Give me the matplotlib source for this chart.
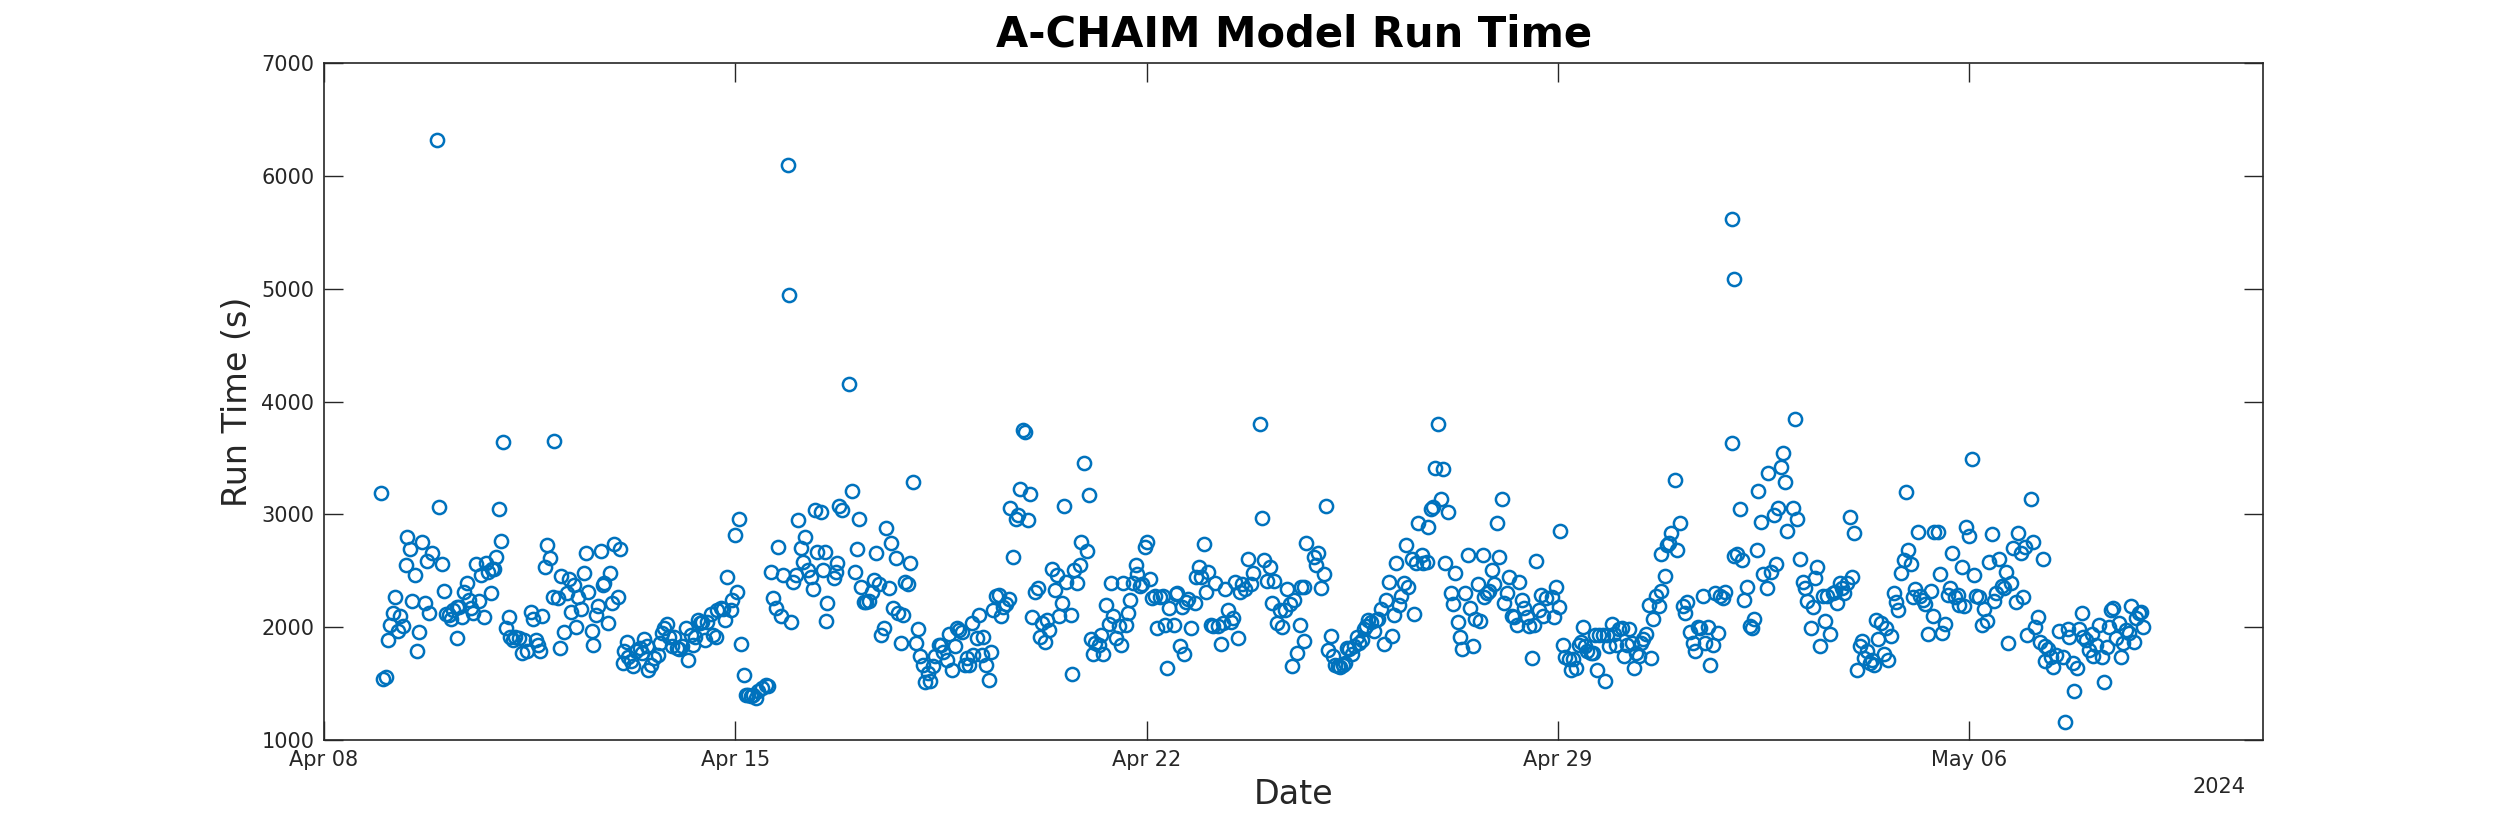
import numpy as np
import matplotlib
matplotlib.use('Agg')
import matplotlib.pyplot as plt
import matplotlib.dates as mdates

# run start, in days after 2024-04-08 00:00, and run time in seconds
days_apr09 = [0.97, 1.01, 1.05, 1.09, 1.12, 1.17, 1.21, 1.26, 1.30, 1.34, 1.39, 1.42, 1.46, 1.50,
              1.55, 1.58, 1.62, 1.66, 1.72, 1.75, 1.79, 1.84, 1.93, 1.96, 2.00, 2.05, 2.08, 2.12,
              2.16, 2.20, 2.26, 2.27, 2.30, 2.35, 2.38, 2.43, 2.46, 2.51, 2.54, 2.59, 2.64, 2.68,
              2.73, 2.75, 2.79, 2.84, 2.86, 2.89, 2.93, 2.97, 3.01, 3.05, 3.09, 3.14, 3.17, 3.21,
              3.25, 3.31, 3.37, 3.41, 3.45, 3.52, 3.55, 3.61, 3.65, 3.67, 3.71, 3.76, 3.80, 3.84,
              3.89, 3.92, 3.99, 4.01, 4.04, 4.09, 4.13, 4.17, 4.21, 4.25, 4.29, 4.33, 4.38, 4.42,
              4.46, 4.49]
secs_apr09 = [3186, 1543, 1563, 1888, 2020, 2124, 2265, 1962, 2103, 2012, 2552, 2797, 2693, 2236,
              2466, 1793, 1956, 2752, 2212, 2587, 2130, 2655, 6318, 3065, 2558, 2324, 2115, 2109,
              2071, 2153, 1903, 2177, 2183, 2089, 2316, 2395, 2242, 2168, 2124, 2563, 2233, 2466,
              2089, 2572, 2493, 2300, 2513, 2513, 2625, 3044, 2761, 3643, 1991, 2089, 1917, 1888,
              1909, 1903, 1770, 1888, 1785, 2139, 2071, 1888, 1844, 1785, 2100, 2531, 2729, 2611,
              2265, 3649, 2257, 1814, 2454, 1956, 2307, 2425, 2139, 2375, 2006, 2265, 2159, 2484,
              2661, 2316]

days_apr12 = [4.56, 4.58, 4.63, 4.66, 4.71, 4.74, 4.77, 4.83, 4.87, 4.90, 4.94, 5.00, 5.04, 5.08,
              5.11, 5.15, 5.18, 5.22, 5.25, 5.31, 5.37, 5.41, 5.45, 5.49, 5.52, 5.56, 5.62, 5.68,
              5.72, 5.76, 5.79, 5.83, 5.87, 5.92, 5.96, 6.00, 6.04, 6.10, 6.16, 6.20, 6.24, 6.28,
              6.32, 6.36, 6.40, 6.44, 6.49, 6.52, 6.58, 6.62, 6.67, 6.69, 6.75, 6.79, 6.82, 6.86,
              6.92, 6.95, 6.99, 7.03, 7.07, 7.10, 7.15, 7.18, 7.22, 7.26, 7.30, 7.35, 7.39, 7.45,
              7.52, 7.56, 7.60, 7.64, 7.69, 7.73, 7.77, 7.81, 7.89, 7.91, 7.94, 7.98, 8.04, 8.07,
              8.11, 8.15, 8.19, 8.24, 8.28, 8.32, 8.36, 8.39, 8.45, 8.49, 8.52, 8.55, 8.56]
secs_apr12 = [1970, 1838, 2109, 2189, 2676, 2375, 2395, 2035, 2484, 2218, 2738, 2271, 2690, 1687,
              1785, 1873, 1740, 1696, 1652, 1793, 1814, 1770, 1894, 1829, 1617, 1667, 1726, 1755,
              1858, 1947, 1991, 2027, 1917, 1829, 1917, 1814, 1805, 1829, 1991, 1711, 1932, 1844,
              1917, 2065, 2035, 2050, 1888, 2050, 2118, 1932, 1917, 2153, 2168, 2159, 2065, 2443,
              2153, 2242, 2817, 2316, 2962, 1850, 1578, 1401, 1401, 1386, 1401, 1372, 1431, 1460,
              1490, 1481, 2493, 2257, 2168, 2714, 2100, 2463, 6097, 4947, 2050, 2404, 2463, 2950,
              2699, 2581, 2802, 2507, 2448, 2336, 3038, 2670, 3018, 2507, 2670, 2059, 2212]

days_apr16 = [8.68, 8.72, 8.73, 8.77, 8.82, 8.94, 8.99, 9.03, 9.07, 9.10, 9.14, 9.19, 9.23, 9.27,
              9.32, 9.36, 9.40, 9.44, 9.48, 9.53, 9.56, 9.61, 9.65, 9.69, 9.74, 9.77, 9.82, 9.85,
              9.89, 9.94, 9.98, 10.02, 10.07, 10.11, 10.15, 10.19, 10.22, 10.27, 10.32, 10.36,
              10.40, 10.46, 10.50, 10.54, 10.60, 10.64, 10.69, 10.73, 10.77, 10.81, 10.85, 10.90,
              10.94, 10.98, 11.02, 11.05, 11.11, 11.15, 11.19, 11.22, 11.26, 11.31, 11.35, 11.39,
              11.43, 11.48, 11.52, 11.56, 11.60, 11.65, 11.67, 11.72, 11.77, 11.81, 11.85, 11.89,
              11.93, 11.98, 12.02, 12.05, 12.10, 12.15, 12.18, 12.22, 12.27, 12.30, 12.34, 12.38,
              12.44, 12.47, 12.51, 12.55, 12.60, 12.62]
secs_apr16 = [2434, 2493, 2566, 3074, 3038, 4159, 3210, 2493, 2690, 2956, 2360, 2227, 2227, 2236,
              2316, 2419, 2655, 2384, 1932, 1991, 2876, 2345, 2743, 2168, 2617, 2124, 1858, 2109,
              2404, 2384, 2572, 3289, 1858, 1982, 1746, 1667, 1510, 1593, 1519, 1652,
              1746, 1844, 1844, 1776, 1711, 1941, 1617, 1829, 1991, 1976, 1953, 1667,
              1726, 1667, 2035, 1755, 1903, 2109, 1755, 1917, 1667, 1528, 1776, 2153,
              2277, 2286, 2100, 2183, 2207, 2248, 3053, 2625, 2956, 2994, 3221, 3746,
              3726, 2950, 3177, 2089, 2316, 2345, 1917, 2041, 1873, 2065, 1976, 2513,
              2330, 2463, 2100, 2218, 3074, 2404]

days_apr20 = [12.73, 12.72, 12.77, 12.81, 12.86, 12.89, 12.93, 12.98, 13.02, 13.05, 13.09, 13.12,
              13.18, 13.22, 13.26, 13.30, 13.35, 13.39, 13.43, 13.47, 13.52, 13.56, 13.60, 13.64,
              13.68, 13.72, 13.76, 13.81, 13.84, 13.88, 13.92, 13.97, 14.01, 14.05, 14.09, 14.14,
              14.18, 14.22, 14.27, 14.31, 14.35, 14.38, 14.47, 14.49, 14.52, 14.56, 14.60, 14.64,
              14.67, 14.71, 14.76, 14.82, 14.84, 14.89, 14.93, 14.97, 15.01, 15.05, 15.09, 15.13,
              15.17, 15.21, 15.26, 15.30, 15.34, 15.38, 15.43, 15.47, 15.51, 15.55, 15.58, 15.62,
              15.67, 15.72, 15.77, 15.81, 15.92, 15.97, 16.00, 16.05, 16.09, 16.13, 16.17, 16.22,
              16.26, 16.30, 16.35, 16.38, 16.43, 16.47, 16.51, 16.56, 16.60, 16.63, 16.67, 16.68,
              16.71]
secs_apr20 = [1587, 2109, 2507, 2395, 2552, 2758, 3451, 2679, 3171, 1894, 1764, 1858,
              1844, 1932, 1764, 2198, 2029, 2389, 2100, 1903, 2012, 1844, 2389, 2021,
              2124, 2242, 2395, 2552, 2472, 2366, 2384, 2714, 2758, 2425, 2257, 2277,
              1991, 2271, 2277, 2021, 1637, 2168, 2021, 2295, 2307, 1829, 2183, 1764,
              2227, 2248, 1991, 2218, 2448, 2531, 2448, 2735, 2316, 2493, 2021, 2012,
              2395, 2012, 1850, 2041, 2336, 2148, 2050, 2080, 2404, 1903, 2316, 2384,
              2336, 2602, 2384, 2478, 3797, 2970, 2596, 2413, 2537, 2218, 2413, 2041,
              2153, 2000, 2153, 2336, 2207, 1652, 2242, 1770, 2021, 2360, 1882, 2354,
              2743]

days_apr24 = [16.85, 16.88, 16.92, 16.96, 17.01, 17.05, 17.09, 17.13, 17.17, 17.21, 17.25, 17.29,
              17.34, 17.38, 17.40, 17.45, 17.49, 17.53, 17.57, 17.62, 17.66, 17.69, 17.73, 17.77,
              17.81, 17.86, 17.90, 17.94, 17.98, 18.04, 18.08, 18.13, 18.17, 18.21, 18.25, 18.30,
              18.32, 18.38, 18.42, 18.45, 18.51, 18.55, 18.58, 18.62, 18.68, 18.71, 18.77, 18.79,
              18.83, 18.88, 18.91, 18.96, 19.00, 19.05, 19.08, 19.12, 19.17, 19.21, 19.25, 19.29,
              19.33, 19.37, 19.42, 19.46, 19.50, 19.55, 19.59, 19.63, 19.67, 19.72, 19.74, 19.79,
              19.83, 19.87, 19.91, 19.96, 20.00, 20.04, 20.08, 20.13, 20.17, 20.21, 20.25, 20.30,
              20.34, 20.38, 20.42, 20.47, 20.51, 20.55, 20.59, 20.63, 20.67, 20.71, 20.75, 20.80]
secs_apr24 = [2625, 2552, 2661, 2345, 2469, 3077, 1799, 1923, 1746, 1667, 1658, 1646,
              1667, 1681, 1814, 1805, 1764, 1829, 1912, 1858, 1888, 1982, 2012, 2065,
              2050, 1962, 2065, 2071, 2159, 1853, 2242, 2404, 1923, 2109, 2566, 2198,
              2277, 2389, 2729, 2360, 2602, 2118, 2572, 2920, 2640, 2572, 2581, 2891,
              3044, 3068, 3407, 3805, 3133, 3398, 2566, 3024, 2301, 2207, 2478, 2050,
              1917, 1805, 2301, 2640, 2168, 1829, 2071, 2384, 2059, 2640, 2265, 2301,
              2325, 2507, 2384, 2920, 2620, 3133, 2212, 2301, 2443, 2100, 2089, 2021,
              2404, 2242, 2168, 2094, 2012, 1726, 2021, 2590, 2153, 2286, 2100, 2257]

days_apr28 = [20.89, 20.93, 20.97, 21.01, 21.03, 21.08, 21.12, 21.18, 21.22, 21.26, 21.31, 21.35,
              21.39, 21.42, 21.46, 21.50, 21.56, 21.60, 21.63, 21.67, 21.70, 21.76, 21.80, 21.84,
              21.87, 21.91, 21.95, 21.99, 22.04, 22.08, 22.12, 22.17, 22.21, 22.25, 22.29, 22.33,
              22.37, 22.41, 22.45, 22.50, 22.54, 22.58, 22.62, 22.67, 22.71, 22.76, 22.82, 22.75,
              22.85, 22.89, 22.93, 22.99, 23.03, 23.08, 23.12, 23.16, 23.20, 23.25, 23.29, 23.33,
              23.38, 23.42, 23.46, 23.50, 23.55, 23.59, 23.63, 23.67, 23.72, 23.76, 23.80, 23.84,
              23.96, 23.96, 23.99, 24.00, 24.04, 24.09, 24.13, 24.17, 24.21, 24.26, 24.30, 24.34,
              24.38, 24.41, 24.45, 24.49, 24.55, 24.58, 24.62, 24.67, 24.71, 24.75, 24.79, 24.83,
              24.86, 24.89]
secs_apr28 = [2271, 2089, 2354, 2177, 2853, 1844, 1735, 1717, 1617, 1717, 1637, 1844,
              1873, 2000, 1835, 1793, 1770, 1770, 1932, 1617, 1932, 1932, 1519, 1932,
              1829, 2029, 1941, 1844, 1982, 1991, 1746, 1844, 1982, 1858, 1637, 1770,
              1746, 1858, 1894, 1941, 2198, 1726, 2071, 2277, 2189, 2325, 2454, 2649,
              2729, 2743, 2838, 3304, 2684, 2926, 2189, 2124, 2227, 1953, 1858, 1785,
              2006, 1991, 2277, 1858, 2006, 1667, 1844, 2301, 1947, 2277, 2257, 2316,
              3628, 5619, 5088, 2631, 2649, 3044, 2596, 2242, 2360, 2012, 1991, 2071,
              2684, 3210, 2935, 2472, 2345, 3369, 2493, 2994, 2560, 3053, 3416, 3540,
              3289, 2856]

days_may02 = [25.00, 25.03, 25.07, 25.12, 25.16, 25.20, 25.24, 25.30, 25.34, 25.38, 25.41, 25.46,
              25.50, 25.54, 25.58, 25.62, 25.68, 25.71, 25.75, 25.79, 25.83, 25.87, 25.91, 25.96,
              26.00, 26.04, 26.08, 26.13, 26.17, 26.21, 26.25, 26.30, 26.34, 26.38, 26.41, 26.45,
              26.49, 26.54, 26.58, 26.62, 26.66, 26.71, 26.75, 26.79, 26.83, 26.88, 26.92, 26.96,
              27.00, 27.04, 27.08, 27.12, 27.16, 27.21, 27.25, 27.29, 27.34, 27.38, 27.40, 27.46,
              27.50, 27.54, 27.59, 27.63, 27.67, 27.71, 27.76, 27.80, 27.83, 27.87, 27.91, 27.95,
              28.00, 28.04, 28.08, 28.11, 28.17, 28.21, 28.25, 28.30, 28.34, 28.38, 28.42, 28.46,
              28.51, 28.55, 28.59, 28.62, 28.66, 28.70, 28.74, 28.80, 28.83, 28.87, 28.92, 28.95,
              28.98]
secs_may02 = [3060, 3841, 2956, 2602, 2404, 2345, 2236, 1991, 2183, 2434, 2537, 1829,
              2277, 2059, 2277, 1941, 2301, 2316, 2218, 2395, 2345, 2307, 2389, 2973,
              2443, 2832, 1622, 1829, 1882, 1726, 1785, 1681, 1711, 1667, 2065, 1894,
              2041, 1764, 1991, 1705, 1923, 2307, 2227, 2153, 2484, 2596, 3195, 2684,
              2560, 2271, 2336, 2847, 2277, 2242, 2207, 1941, 2325, 2100, 2847, 2847,
              2472, 1947, 2029, 2286, 2345, 2661, 2265, 2286, 2198, 2531, 2189, 2891,
              2808, 3487, 2463, 2277, 2271, 2021, 2159, 2059, 2581, 2826, 2236, 2301,
              2602, 2366, 2345, 2493, 1864, 2389, 2699, 2227, 2832, 2655, 2271, 2714,
              1932]

days_may06 = [29.04, 29.09, 29.25, 29.16, 29.12, 29.20, 29.29, 29.34, 29.29, 29.38, 29.43, 29.48,
              29.53, 29.60, 29.63, 29.67, 29.70, 29.76, 29.78, 29.83, 29.87, 29.91, 29.94, 29.99,
              30.03, 30.08, 30.11, 30.16, 30.20, 30.25, 30.29, 30.34, 30.37, 30.41, 30.45, 30.50,
              30.54, 30.58, 30.62, 30.67, 30.71, 30.75, 30.80, 30.84, 30.88, 30.92, 30.96]
secs_may06 = [3133, 2758, 2602, 2094, 2006, 1873, 1829, 1805, 1696, 1740, 1646, 1755,
              1962, 1735, 1156, 1982, 1912, 1687, 1431, 1637, 1982, 2130, 1912, 1888,
              1799, 1941, 1746, 1844, 2021, 1735, 1510, 1823, 2000, 2153, 2168, 1903,
              2035, 1735, 1864, 1976, 1947, 2189, 1873, 2080, 2124, 2139, 2006]

tick_dates = ['2024-04-08', '2024-04-15', '2024-04-22', '2024-04-29', '2024-05-06']

days = np.array(days_apr09 + days_apr12 + days_apr16 + days_apr20 +
                days_apr24 + days_apr28 + days_may02 + days_may06)
secs = np.array(secs_apr09 + secs_apr12 + secs_apr16 + secs_apr20 +
                secs_apr24 + secs_apr28 + secs_may02 + secs_may06)

start = np.datetime64('2024-04-08T00:00:00')
when = start + (days * 86400).astype('timedelta64[s]')

axcol = '#262626'
plt.rcParams['font.family'] = 'DejaVu Sans'

fig = plt.figure(figsize=(25, 8.33), dpi=100)
ax = fig.add_axes([0.1296, 0.1116, 0.7757, 0.8128])

ax.plot(when, secs, 'o', linestyle='none', markersize=9.5, markerfacecolor='none',
        markeredgecolor='#0072BD', markeredgewidth=1.8)

ax.set_xlim(np.datetime64('2024-04-08'), np.datetime64('2024-05-11'))
ax.set_ylim(1000, 7000)
ax.set_yticks(np.arange(1000, 7001, 1000))
ax.set_xticks(np.array(tick_dates, dtype='datetime64[D]'))
ax.xaxis.set_major_formatter(mdates.DateFormatter('%b %d'))

ax.tick_params(direction='in', length=14, width=1, top=True, right=True,
               labelsize=15, colors=axcol, pad=7)
for s in ax.spines.values():
    s.set_color(axcol)
    s.set_linewidth(1.2)

ax.set_title('A-CHAIM Model Run Time', fontsize=30, fontweight='bold', pad=12)
ax.set_ylabel('Run Time (s)', fontsize=24, color=axcol, labelpad=5)
ax.set_xlabel('Date', fontsize=24, color=axcol, labelpad=6)
fig.text(0.898, 0.055, '2024', fontsize=15, color=axcol, ha='right', va='center')

fig.savefig('out.png', dpi=100)
